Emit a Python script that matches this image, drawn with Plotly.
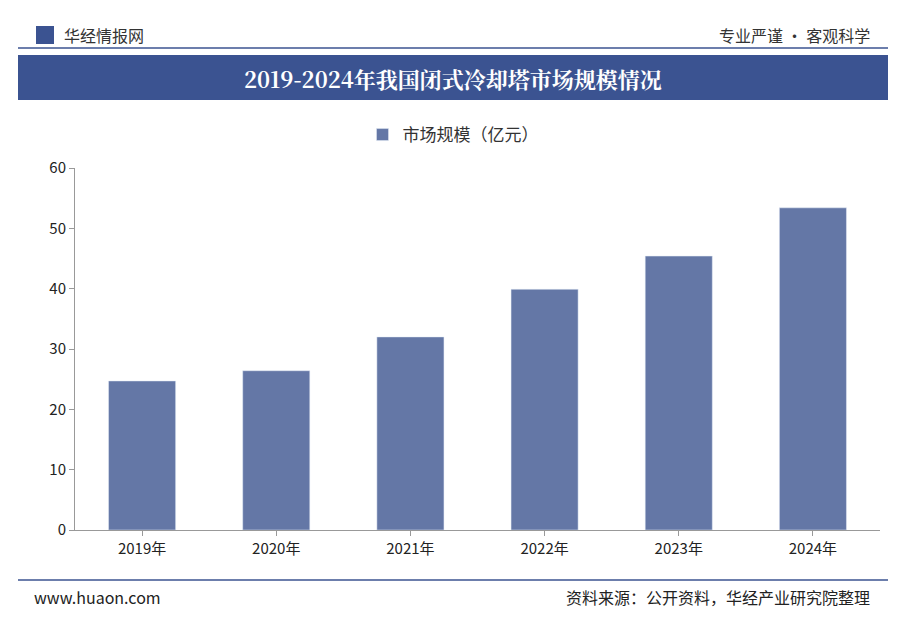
import plotly.graph_objects as go

years = ["2019年", "2020年", "2021年", "2022年", "2023年", "2024年"]
values = [24.7, 26.4, 32.0, 39.9, 45.4, 53.4]
series_name = "市场规模（亿元）"

fig = go.Figure(go.Bar(x=years, y=values, name=series_name, marker_color="#6477a6", width=0.5))

W, H = 900, 633
OFF = 8  # page body margin
L, R, T, B = 75 - OFF, 880 - OFF, 168 - OFF, 530 - OFF
def px(x): return (x - OFF - L) / (R - L)
def py(y): return (B - (y - OFF)) / (B - T)

shapes = [
    dict(type="rect", xref="paper", yref="paper", x0=px(18), x1=px(888), y0=py(100), y1=py(55),
         fillcolor="#3b5391", line_width=0, layer="below"),
    dict(type="line", xref="paper", yref="paper", x0=px(18), x1=px(888), y0=py(48), y1=py(48),
         line=dict(color="#3b5391", width=1.5)),
    dict(type="line", xref="paper", yref="paper", x0=px(18), x1=px(888), y0=py(580), y1=py(580),
         line=dict(color="#3b5391", width=1.5)),
    dict(type="rect", xref="paper", yref="paper", x0=px(36), x1=px(54), y0=py(44), y1=py(26),
         fillcolor="#3b5391", line_width=0),
]
font = "Noto Sans CJK SC"
def a(text, x, y, xa, size, color, fam=font):
    return dict(text=text, x=px(x), y=py(y), xref="paper", yref="paper", xanchor=xa, yanchor="middle",
                showarrow=False, font=dict(size=size, color=color, family=fam))
ann = [
    a("<b>2019-2024年我国闭式冷却塔市场规模情况</b>", 453, 78, "center", 22, "white",
      "Noto Serif CJK SC, Noto Sans CJK SC"),
    a("华经情报网", 62, 35, "left", 16, "#333"),
    a("专业严谨 • 客观科学", 872, 35, "right", 16, "#333"),
    a("www.huaon.com", 32, 597, "left", 16, "#222"),
    a("资料来源：公开资料，华经产业研究院整理", 872, 597, "right", 16, "#222"),
]

fig.update_layout(
    width=W, height=H, paper_bgcolor="white", plot_bgcolor="white",
    margin=dict(l=L, r=W - R, t=T, b=H - B),
    shapes=shapes, annotations=ann, showlegend=True,
    legend=dict(orientation="h", x=px(453), xanchor="center", y=py(135), yanchor="middle",
                font=dict(size=17, color="#333", family=font)),
    bargap=0.5,
    xaxis=dict(showline=True, linecolor="#999", ticks="outside", tickcolor="#999",
               tickfont=dict(size=15, color="#222", family=font)),
    yaxis=dict(range=[0, 60], dtick=10, showgrid=False, showline=True, linecolor="#999",
               ticks="outside", tickcolor="#999", tickfont=dict(size=15, color="#222", family=font)),
)
fig.write_html("out.html")
